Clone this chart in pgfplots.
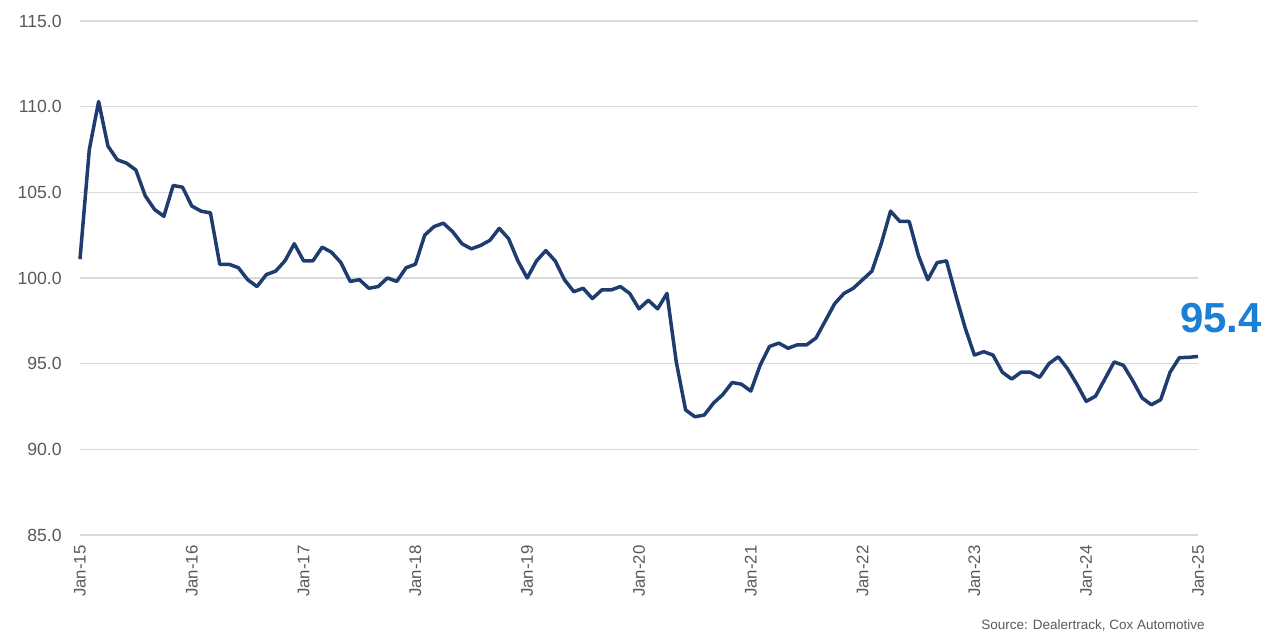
\documentclass[border=0pt]{standalone}
\usepackage{pgfplots}
\pgfplotsset{compat=1.18}
\usepackage{fontspec}
\setmainfont{Liberation Sans}
\definecolor{navy}{HTML}{1F3C6E}
\definecolor{lblue}{HTML}{1C7FD6}
\definecolor{txtgray}{HTML}{595959}
\definecolor{gridgray}{HTML}{D9D9D9}
\begin{document}
\begin{tikzpicture}
\useasboundingbox (-40pt,-52.5pt) rectangle (600pt,267.5pt);
\begin{axis}[
  at={(0,0)}, anchor=south west,
  scale only axis, width=559pt, height=257pt,
  xmin=0, xmax=120, ymin=85, ymax=115,
  axis line style={draw=none},
  major tick length=0pt,
  ytick={85,90,...,115},
  ymajorgrids, grid style={gridgray, line width=0.8pt},
  xtick={0,12,...,120},
  xticklabels={Jan-15,Jan-16,Jan-17,Jan-18,Jan-19,Jan-20,Jan-21,Jan-22,Jan-23,Jan-24,Jan-25},
  /pgf/number format/assume math mode=true,
  yticklabel={\pgfmathprintnumber[fixed,fixed zerofill,precision=1]{\tick}},
  ticklabel style={text=txtgray},
  yticklabel style={font=\fontsize{8.8pt}{10pt}\selectfont, anchor=east, inner sep=0pt, xshift=-9pt},
  xticklabel style={font=\fontsize{8.4pt}{10pt}\selectfont, rotate=90, anchor=east, inner xsep=5pt, inner ysep=0pt},
  clip=false,
]
\addplot[navy, line width=1.75pt, line join=round] table[x=i, y=v] {
i v
0 101.1
1 107.5
2 110.3
3 107.7
4 106.9
5 106.7
6 106.3
7 104.8
8 104.0
9 103.6
10 105.4
11 105.3
12 104.2
13 103.9
14 103.8
15 100.8
16 100.8
17 100.6
18 99.9
19 99.5
20 100.2
21 100.4
22 101.0
23 102.0
24 101.0
25 101.0
26 101.8
27 101.5
28 100.9
29 99.8
30 99.9
31 99.4
32 99.5
33 100.0
34 99.8
35 100.6
36 100.8
37 102.5
38 103.0
39 103.2
40 102.7
41 102.0
42 101.7
43 101.9
44 102.2
45 102.9
46 102.3
47 101.0
48 100.0
49 101.0
50 101.6
51 101.0
52 99.9
53 99.2
54 99.4
55 98.8
56 99.3
57 99.3
58 99.5
59 99.1
60 98.2
61 98.7
62 98.2
63 99.1
64 95.1
65 92.3
66 91.9
67 92.0
68 92.7
69 93.2
70 93.9
71 93.8
72 93.4
73 94.9
74 96.0
75 96.2
76 95.9
77 96.1
78 96.1
79 96.5
80 97.5
81 98.5
82 99.1
83 99.4
84 99.9
85 100.4
86 102.0
87 103.9
88 103.3
89 103.3
90 101.3
91 99.9
92 100.9
93 101.0
94 99.0
95 97.1
96 95.5
97 95.7
98 95.5
99 94.5
100 94.1
101 94.5
102 94.5
103 94.2
104 95.0
105 95.4
106 94.7
107 93.8
108 92.8
109 93.1
110 94.1
111 95.1
112 94.9
113 94.0
114 93.0
115 92.6
116 92.9
117 94.5
118 95.35
119 95.37
120 95.42
};
\node[anchor=south, inner sep=0pt, xshift=11.5pt, yshift=11.5pt, text=lblue, font=\fontsize{21pt}{24pt}\selectfont\bfseries] at (axis cs:120,95.42) {95.4};
\end{axis}
\node[anchor=east, inner sep=0pt, text=txtgray, font=\fontsize{6.75pt}{8pt}\selectfont] at (562.5pt,-45pt) {Source: Dealertrack, Cox Automotive};
\end{tikzpicture}
\end{document}
